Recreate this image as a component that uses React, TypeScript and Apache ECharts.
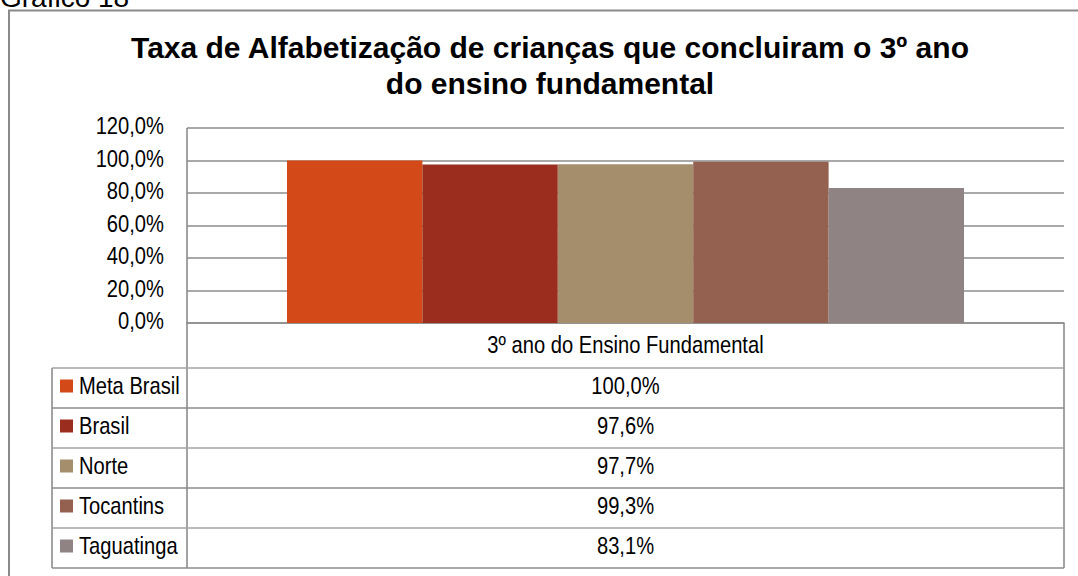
import React, { useEffect, useRef } from "react";
import * as echarts from "echarts";

const categories = ["3º ano do Ensino Fundamental"];
const seriesNames = ["Meta Brasil", "Brasil", "Norte", "Tocantins", "Taguatinga"];
const seriesValues = [100.0, 97.6, 97.7, 99.3, 83.1];
const seriesColors = ["#D34A18", "#9B2D1F", "#A48E6C", "#946150", "#8F8483"];
const yTickValues = [0, 20, 40, 60, 80, 100, 120];
const yTicks = { min: 0, max: 120, interval: 20 };
const titleLines = [
  "Taxa de Alfabetização de crianças que concluiram o 3º ano",
  "do ensino fundamental",
];
const caption = "Gráfico 18";

const ARIAL = "'Liberation Sans', Arial, sans-serif";
const NARROW_FONT = `24px ${ARIAL}`;
const NARROW_SCALE = 0.84;

const fmt = (v: number) => v.toFixed(1).replace(".", ",") + "%";

export default function App() {
  const ref = useRef<HTMLDivElement>(null);
  useEffect(() => {
    if (!ref.current) return;
    const chart = echarts.init(ref.current, null, { renderer: "svg" });

    const plotL = 187, plotR = 1064, plotT = 128, plotB = 323;
    const tableL = 52, headerB = 368, rowH = 40;
    const tableB = headerB + rowH * seriesNames.length;
    const lineColor = "#a3a3a3";
    const gridColor = "#8c8c8c";

    chart.setOption({
      animation: false,
      backgroundColor: "#fff",
      grid: { left: plotL, right: 1078 - plotR, top: plotT, bottom: 576 - plotB, containLabel: false },
      xAxis: {
        type: "category",
        data: categories,
        axisLine: { show: true, lineStyle: { color: gridColor, width: 1.6 } },
        axisTick: { show: false },
        axisLabel: { show: false },
      },
      yAxis: {
        type: "value",
        min: yTicks.min,
        max: yTicks.max,
        interval: yTicks.interval,
        axisLine: { show: false },
        axisTick: { show: false },
        axisLabel: { show: false },
        splitLine: { show: true, lineStyle: { color: gridColor, width: 1.6 } },
      },
      series: seriesNames.map((name, i) => ({
        name,
        type: "bar",
        data: [seriesValues[i]],
        itemStyle: { color: seriesColors[i] },
        barGap: "0%",
        barCategoryGap: "22.8%",
      })),
    });

    const narrowText = (text: string, x: number, y: number, align: string) => ({
      type: "text",
      x,
      y,
      scaleX: NARROW_SCALE,
      style: { text, font: NARROW_FONT, fill: "#000", textAlign: align, textVerticalAlign: "middle" },
    });

    const graphics: any[] = [];
    graphics.push({
      type: "rect",
      shape: { x: 9, y: 10.5, width: 1090, height: 600 },
      style: { fill: "none", stroke: "#8a8a8a", lineWidth: 2 },
      silent: true,
    });
    graphics.push({
      type: "text",
      x: 0,
      y: 11,
      style: { text: caption, font: `28px ${ARIAL}`, fill: "#000", textAlign: "left", textVerticalAlign: "bottom" },
    });
    titleLines.forEach((t, i) => {
      graphics.push({
        type: "text",
        x: 550,
        y: 47 + i * 36,
        style: { text: t, font: `bold 30px ${ARIAL}`, fill: "#000", textAlign: "center", textVerticalAlign: "middle" },
      });
    });

    // y-axis tick labels placed through the axis scale
    yTickValues.forEach((v) => {
      const py = chart.convertToPixel({ yAxisIndex: 0 }, v) as number;
      graphics.push(narrowText(fmt(v), 164, py - 2, "right"));
    });
    // category label in the header row
    const catX = chart.convertToPixel({ xAxisIndex: 0 }, categories[0]) as number;
    graphics.push(narrowText(categories[0], catX, (plotB + headerB) / 2 - 1, "center"));

    const hline = (y: number, x1: number, x2: number, c = lineColor) =>
      graphics.push({ type: "line", shape: { x1, y1: y, x2, y2: y }, style: { stroke: c, lineWidth: 1.6 }, silent: true });
    const vline = (x: number, y1: number, y2: number, c = lineColor) =>
      graphics.push({ type: "line", shape: { x1: x, y1, x2: x, y2 }, style: { stroke: c, lineWidth: 1.6 }, silent: true });

    vline(plotL, plotT, tableB, gridColor);
    vline(plotR, plotB, tableB, gridColor);
    vline(tableL, headerB, tableB, gridColor);
    for (let i = 0; i <= seriesNames.length; i++) {
      hline(headerB + i * rowH, tableL, plotR, i % 2 === 0 ? lineColor : gridColor);
    }
    seriesNames.forEach((name, i) => {
      const cy = headerB + i * rowH + rowH / 2;
      graphics.push({
        type: "rect",
        shape: { x: 60, y: cy - 8.5, width: 13, height: 13 },
        style: { fill: seriesColors[i] },
      });
      graphics.push(narrowText(name, 79, cy - 2, "left"));
      graphics.push(narrowText(fmt(seriesValues[i]), catX, cy - 2, "center"));
    });

    chart.setOption({ graphic: graphics });
    return () => chart.dispose();
  }, []);
  return <div ref={ref} style={{ position: "fixed", left: 0, top: 0, width: 1078, height: 576 }} />;
}
